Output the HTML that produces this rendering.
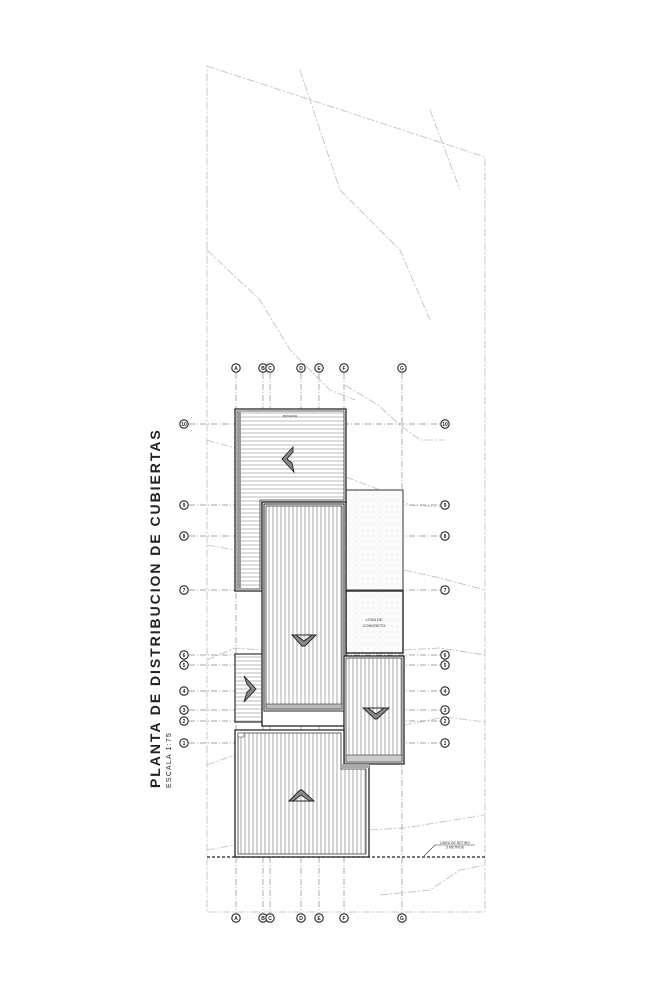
<!DOCTYPE html>
<html><head><style>body{margin:0;background:#fff}svg{display:block}</style></head>
<body>
<svg width="647" height="1000" viewBox="0 0 647 1000" xmlns="http://www.w3.org/2000/svg" font-family="Liberation Sans, sans-serif">
<defs>
<pattern id="vh" width="4" height="4" patternUnits="userSpaceOnUse"><rect width="4" height="4" fill="#fff"/><line x1="1" y1="0" x2="1" y2="4" stroke="#aaa" stroke-width="1"/></pattern>
<pattern id="hh" width="4" height="4" patternUnits="userSpaceOnUse"><rect width="4" height="4" fill="#fff"/><line x1="0" y1="1" x2="4" y2="1" stroke="#bbb" stroke-width="1"/></pattern>
<pattern id="dt" width="6" height="6" patternUnits="userSpaceOnUse"><rect width="6" height="6" fill="#fbfbfb"/><circle cx="2" cy="2" r="0.5" fill="#ccc"/><circle cx="5" cy="4" r="0.4" fill="#ddd"/></pattern>
</defs>
<g fill="none" stroke="#bbb" stroke-width="0.8" stroke-dasharray="8,2,2,2">
<path d="M207,66 L485,157 L485,912 L207,912 Z"/>
<path d="M300,70 L340,190 L400,250 L430,320"/>
<path d="M430,110 L460,190"/>
<path d="M207,250 L260,300 L290,350 L330,390 L355,400"/>
<path d="M345,385 L378,405 L400,425 L420,440 L445,440"/>
<path d="M346,477 L380,490 L410,505 L445,507"/>
<path d="M207,440 L235,448"/>
<path d="M207,545 L235,550"/>
<path d="M404,570 L440,578 L485,590"/>
<path d="M207,660 L235,648 L262,650"/>
<path d="M404,650 L440,648 L485,655"/>
<path d="M404,725 L445,717 L485,722"/>
<path d="M207,765 L235,755"/>
<path d="M370,830 L404,828 L485,815"/>
<path d="M207,850 L235,845"/>
<path d="M380,895 L430,890 L460,870 L485,865"/>
</g>
<g stroke="#888" stroke-width="0.7" stroke-dasharray="6,2,1,2" fill="none">
<line x1="236" y1="373" x2="236" y2="913"/><line x1="263" y1="373" x2="263" y2="913"/><line x1="270" y1="373" x2="270" y2="913"/>
<line x1="301" y1="373" x2="301" y2="913"/><line x1="319" y1="373" x2="319" y2="913"/><line x1="344" y1="373" x2="344" y2="913"/><line x1="402" y1="373" x2="402" y2="913"/>
<line x1="189" y1="424" x2="440" y2="424"/><line x1="189" y1="505" x2="440" y2="505"/><line x1="189" y1="536" x2="440" y2="536"/>
<line x1="189" y1="590" x2="440" y2="590"/><line x1="189" y1="655" x2="440" y2="655"/><line x1="189" y1="665" x2="440" y2="665"/>
<line x1="189" y1="691" x2="440" y2="691"/><line x1="189" y1="710" x2="440" y2="710"/><line x1="189" y1="721" x2="440" y2="721"/><line x1="189" y1="743" x2="440" y2="743"/>
</g>
<g fill="#fff" stroke="#222" stroke-width="1.1">
<circle cx="236" cy="368" r="4.2"/><circle cx="263" cy="368" r="4.2"/><circle cx="270" cy="368" r="4.2"/><circle cx="301" cy="368" r="4.2"/><circle cx="319" cy="368" r="4.2"/><circle cx="344" cy="368" r="4.2"/><circle cx="402" cy="368" r="4.2"/>
<circle cx="236" cy="918" r="4.2"/><circle cx="263" cy="918" r="4.2"/><circle cx="270" cy="918" r="4.2"/><circle cx="301" cy="918" r="4.2"/><circle cx="319" cy="918" r="4.2"/><circle cx="344" cy="918" r="4.2"/><circle cx="402" cy="918" r="4.2"/>
<circle cx="184" cy="424" r="4.2"/><circle cx="184" cy="505" r="4.2"/><circle cx="184" cy="536" r="4.2"/><circle cx="184" cy="590" r="4.2"/><circle cx="184" cy="655" r="4.2"/><circle cx="184" cy="665" r="4.2"/><circle cx="184" cy="691" r="4.2"/><circle cx="184" cy="710" r="4.2"/><circle cx="184" cy="721" r="4.2"/><circle cx="184" cy="743" r="4.2"/>
<circle cx="445" cy="424" r="4.2"/><circle cx="445" cy="505" r="4.2"/><circle cx="445" cy="536" r="4.2"/><circle cx="445" cy="590" r="4.2"/><circle cx="445" cy="655" r="4.2"/><circle cx="445" cy="665" r="4.2"/><circle cx="445" cy="691" r="4.2"/><circle cx="445" cy="710" r="4.2"/><circle cx="445" cy="721" r="4.2"/><circle cx="445" cy="743" r="4.2"/>
</g>
<g font-size="5" font-weight="bold" text-anchor="middle" fill="#222">
<text x="236" y="370">A</text><text x="263" y="370">B</text><text x="270" y="370">C</text><text x="301" y="370">D</text><text x="319" y="370">E</text><text x="344" y="370">F</text><text x="402" y="370">G</text>
<text x="236" y="920">A</text><text x="263" y="920">B</text><text x="270" y="920">C</text><text x="301" y="920">D</text><text x="319" y="920">E</text><text x="344" y="920">F</text><text x="402" y="920">G</text>
<text x="184" y="426">10</text><text x="184" y="507">9</text><text x="184" y="538">8</text><text x="184" y="592">7</text><text x="184" y="657">6</text><text x="184" y="667">5</text><text x="184" y="693">4</text><text x="184" y="712">3</text><text x="184" y="723">2</text><text x="184" y="745">1</text>
<text x="445" y="426">10</text><text x="445" y="507">9</text><text x="445" y="538">8</text><text x="445" y="592">7</text><text x="445" y="657">6</text><text x="445" y="667">5</text><text x="445" y="693">4</text><text x="445" y="712">3</text><text x="445" y="723">2</text><text x="445" y="745">1</text>
</g>
<rect x="346" y="490" width="57" height="100" fill="url(#dt)" stroke="#555" stroke-width="1.2"/>
<rect x="346" y="591" width="57" height="62" fill="url(#dt)" stroke="#333" stroke-width="1.5"/>
<text x="374" y="621" font-size="4" text-anchor="middle" fill="#333">LOSA DE</text>
<text x="374" y="627" font-size="4" text-anchor="middle" fill="#333">CONCRETO</text>
<path d="M235,409 H346 V502 H262 V591 H235 Z" fill="#fff" stroke="#222" stroke-width="1.3"/>
<path d="M237,411 H344 V500 H260 V589 H237 Z" fill="url(#hh)" stroke="#333" stroke-width="0.8"/>
<rect x="238" y="412" width="3" height="176" fill="#999"/>
<text x="290" y="417" font-size="3" text-anchor="middle" fill="#333">BOTADOR</text>
<path d="M293,447 L282,459 L294,472 L292,463 L287,459 L293,452 Z" fill="#888" stroke="#222" stroke-width="0.9"/>
<rect x="235" y="654" width="28" height="68" fill="url(#hh)" stroke="#333" stroke-width="1.2"/>
<path d="M244,676 L256,689 L244,702 L247,692 L251,689 L247,684 Z" fill="#888" stroke="#222" stroke-width="0.9"/>
<rect x="262" y="502" width="84" height="224" fill="#fff" stroke="#222" stroke-width="1.3"/>
<rect x="264" y="504" width="80" height="207" fill="#fff" stroke="#222" stroke-width="1"/>
<rect x="266" y="506" width="76" height="203" fill="url(#vh)" stroke="#333" stroke-width="0.8"/>
<rect x="266" y="704" width="76" height="5" fill="#bbb" stroke="#333" stroke-width="0.6"/>
<path d="M292,635 L316,635 L305,646 L302,646 Z M296,635 L304,641 L312,635 Z" fill="#888" stroke="#222" stroke-width="0.9" fill-rule="evenodd"/>
<rect x="344" y="656" width="60" height="108" fill="#fff" stroke="#222" stroke-width="1.3"/>
<rect x="346" y="658" width="56" height="104" fill="url(#vh)" stroke="#333" stroke-width="0.8"/>
<rect x="346" y="755" width="56" height="7" fill="#ccc" stroke="#333" stroke-width="0.6"/>
<path d="M363,708 L389,708 L377,719 L375,719 Z M368,708 L376,714 L384,708 Z" fill="#888" stroke="#222" stroke-width="0.9" fill-rule="evenodd"/>
<path d="M235,730 H344 V766 H369 V857 H235 Z" fill="#fff" stroke="#222" stroke-width="1.3"/>
<path d="M238,733 H341 V769 H366 V854 H238 Z" fill="url(#vh)" stroke="#333" stroke-width="0.8"/>
<path d="M340,764 H369 V768 H340 Z" fill="#aaa"/>
<rect x="238" y="733" width="6" height="4" fill="#fff" stroke="#333" stroke-width="0.5"/>
<path d="M289,801 L300,790 L302,790 L314,801 Z M293,801 L301,795 L310,801 Z" fill="#888" stroke="#222" stroke-width="0.9" fill-rule="evenodd"/>
<line x1="207" y1="857" x2="485" y2="857" stroke="#222" stroke-width="1.3" stroke-dasharray="3,2"/>
<path d="M424,856 L435,845 L475,845" fill="none" stroke="#333" stroke-width="0.6"/>
<text x="455" y="844" font-size="3.5" text-anchor="middle" fill="#333">LINEA DE RETIRO</text>
<text x="455" y="848.5" font-size="3.5" text-anchor="middle" fill="#333">3 METROS</text>
<text transform="translate(160,788) rotate(-90)" font-size="14" font-weight="bold" letter-spacing="1.95" fill="#222">PLANTA DE DISTRIBUCION DE CUBIERTAS</text>
<text transform="translate(171,788) rotate(-90)" font-size="7" letter-spacing="1.2" fill="#222">ESCALA 1:75</text>
</svg>
</body></html>
